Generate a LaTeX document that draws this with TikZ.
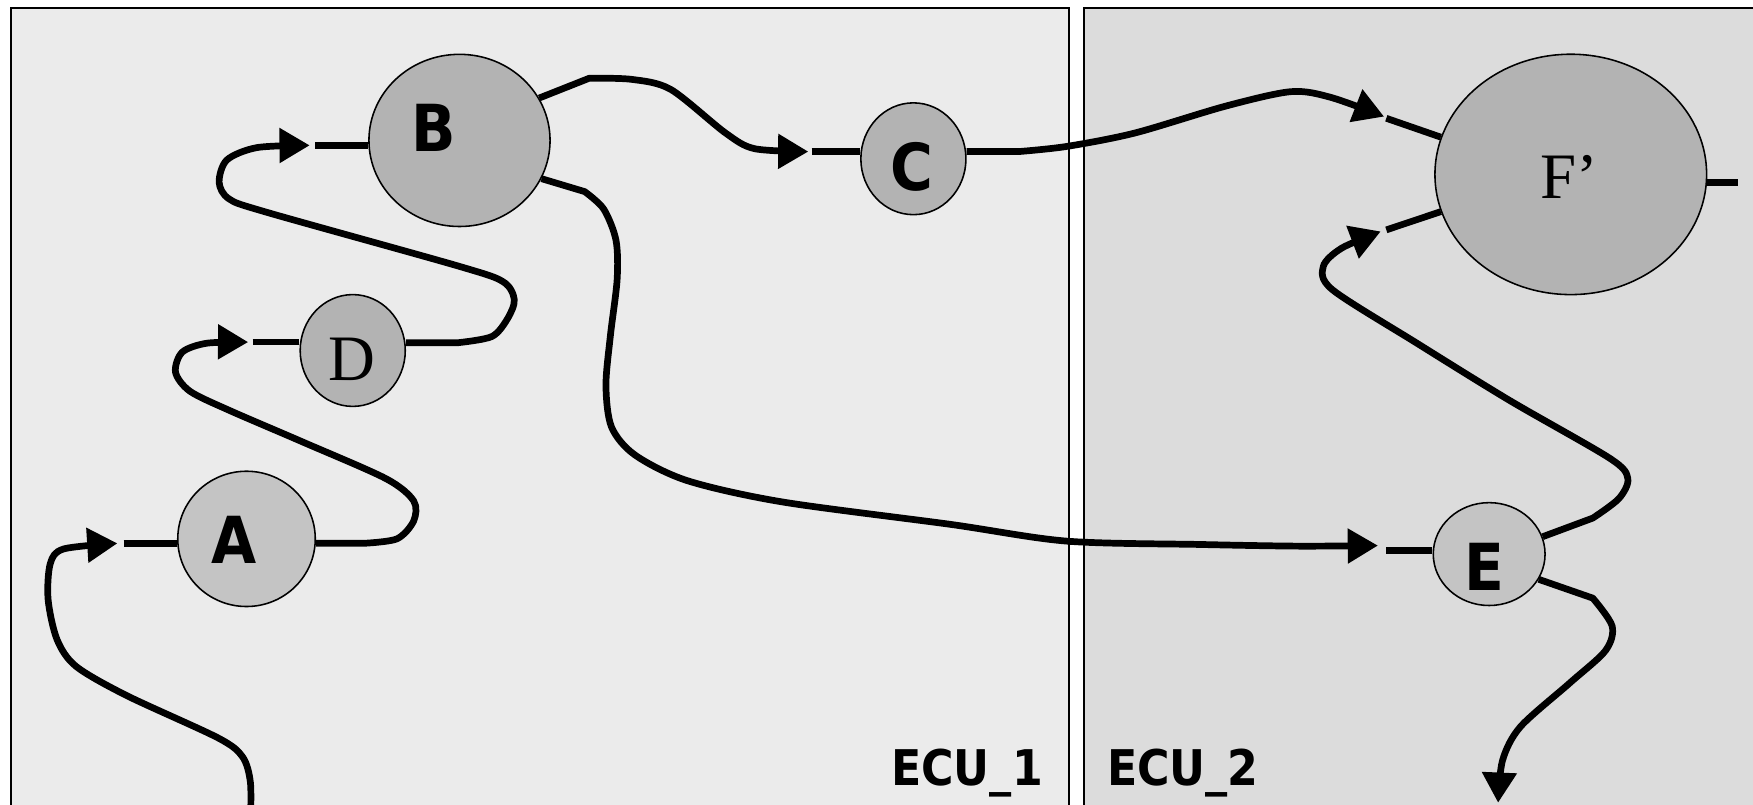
\documentclass[tikz,border=0pt]{standalone}
\usepackage{fontspec}
\setmainfont{Liberation Serif}
\newfontfamily\labfont{DejaVu Sans}[FakeStretch=0.9]
\usetikzlibrary{shapes.geometric,arrows.meta}
\definecolor{panelA}{HTML}{EBEBEB}
\definecolor{panelB}{HTML}{DCDCDC}
\definecolor{nodeDark}{HTML}{B3B3B3}
\definecolor{nodeLight}{HTML}{C4C4C4}
\begin{document}
\begin{tikzpicture}[x=1pt,y=-1pt,
  panel/.style={draw=black,line width=1.8pt},
  task/.style={ellipse,draw=black,line width=1.4pt,inner sep=0pt},
  boldlab/.style={font=\labfont\bfseries\fontsize{58}{60}\selectfont,inner sep=0pt},
  seriflab/.style={font=\fontsize{58}{60}\selectfont,inner sep=0pt},
  ecu/.style={font=\labfont\bfseries\fontsize{44}{46}\selectfont,inner sep=0pt},
  conn/.style={line width=6pt,line join=round},
  stub/.style={line width=6pt},
  tip/.style={-{Triangle[length=27pt,width=30pt]}}]
\useasboundingbox (0,0) rectangle (1568,720);
\clip (0,0) rectangle (1568,720);
\fill[white] (0,0) rectangle (1568,720);
% panels
\draw[panel,fill=panelA] (10,7) rectangle (956,740);
\draw[panel,fill=panelB] (970,7) rectangle (1590,740);
\node[ecu,anchor=base east] (ecu1) at (933,703) {ECU\_1};
\node[ecu,anchor=base west] (ecu2) at (990,703) {ECU\_2};
% tasks
\node[task,fill=nodeDark,minimum width=162pt,minimum height=154pt] (B) at (411,125.6) {};
\node[task,fill=nodeDark,minimum width=94pt,minimum height=100pt] (D) at (315.5,313.5) {};
\node[task,fill=nodeLight,minimum width=123pt,minimum height=121pt] (A) at (220.5,482) {};
\node[task,fill=nodeDark,minimum width=94pt,minimum height=100pt] (C) at (817,142) {};
\node[task,fill=nodeDark,minimum width=243pt,minimum height=215pt] (F) at (1405,156) {};
\node[task,fill=nodeLight,minimum width=100pt,minimum height=92pt] (E) at (1332,495.6) {};
\node[boldlab] (Blab) at (388,114) {B};
\node[seriflab] (Dlab) at (315,321) {D};
\node[boldlab] (Alab) at (209,482.6) {A};
\node[boldlab] (Clab) at (816,149.7) {C};
\node[seriflab] (Flab) at (1404,158) {F’};
\node[boldlab] (Elab) at (1328,506.6) {E};
% port coordinates
\coordinate (aInTip) at (105,486);
\coordinate (aInS) at (110.5,486);
\coordinate (aOut) at (325,486);
\coordinate (dInTip) at (222,306);
\coordinate (dInS) at (226,306);
\coordinate (dOut) at (410,306.5);
\coordinate (bInTip) at (277,130);
\coordinate (bInS) at (282,130);
\coordinate (bOutU) at (527,70);
\coordinate (bOutL) at (523,171.4);
\coordinate (cInTip) at (723,135.6);
\coordinate (cInS) at (726,135.6);
\coordinate (cOut) at (911,135.6);
\coordinate (fInUTip) at (1238,104.3);
\coordinate (fInUS) at (1240,105.8);
\coordinate (fInLTip) at (1235,207);
\coordinate (fInLS) at (1240,205.6);
\coordinate (fOut) at (1555,163.3);
\coordinate (eInTip) at (1232.5,488);
\coordinate (eInS) at (1240,492.6);
\coordinate (eOutU) at (1424.7,463.4);
\coordinate (eOutL) at (1424.7,535);
\coordinate (eEnd) at (1340,718);
\coordinate (aStart) at (224,735);
% input stubs
\draw[stub] (aInS) -- (A.west |- aInS);
\draw[stub] (dInS) -- (D.west |- dInS);
\draw[stub] (bInS) -- (B.west |- bInS);
\draw[stub] (cInS) -- (C.west |- cInS);
\draw[stub] (eInS) -- (E.west |- eInS);
\draw[stub] (fInUS) -- (F.164);
\draw[stub] (fInLS) -- (F.196);
\draw[stub] (F.east |- fOut) -- (fOut);
% connectors
\draw[conn,tip] plot[smooth] coordinates {(aStart) (224,700) (217,677) (195,660) (113,622) (68,596) (51,572) (43,536) (45,504) (57,491) (aInTip)};
\draw[conn,tip] (A.east |- aOut) -- (aOut) -- plot[smooth] coordinates {(aOut) (355,482) (370,466) (370,448) (345,428) (270,395) (205,367) (170,350) (157,333) (163,315) (185,307) (dInTip)};
\draw[conn,tip] (D.east |- dOut) -- (dOut) -- plot[smooth] coordinates {(dOut) (440,301) (454,285) (460,268) (450,252) (410,238) (239,190) (205,178) (196,163) (203,143) (230,132) (bInTip)};
\draw[conn,tip] (B.28) -- (bOutU) -- plot[smooth] coordinates {(bOutU) (565,71) (600,80) (649,119) (675,133) (cInTip)};
\draw[conn,tip] (B.-25) -- (bOutL) -- plot[smooth] coordinates {(bOutL) (540,187) (551,215) (552,250) (546,300) (542,345) (547,382) (568,407) (615,430) (700,449) (850,469) (954,484) (1073,487) (1161,488.5) (eInTip)};
\draw[conn,tip] (C.east |- cOut) -- (cOut) -- plot[smooth] coordinates {(cOut) (954,131) (1015,119) (1096,95) (1154.5,82) (1190,87) (fInUTip)};
\draw[conn,tip] (E.18) -- (eOutU) -- plot[smooth] coordinates {(eOutU) (1448,446) (1456,428) (1440,410) (1350,358) (1267.4,307) (1192,259.3) (1183.6,238.4) (1200,222) (fInLTip)};
\draw[conn,tip] (E.-27) -- (eOutL) -- plot[smooth] coordinates {(eOutL) (1442,560) (1436,582) (1404,611) (1360,650) (1344,680) (eEnd)};
\end{tikzpicture}
\end{document}
